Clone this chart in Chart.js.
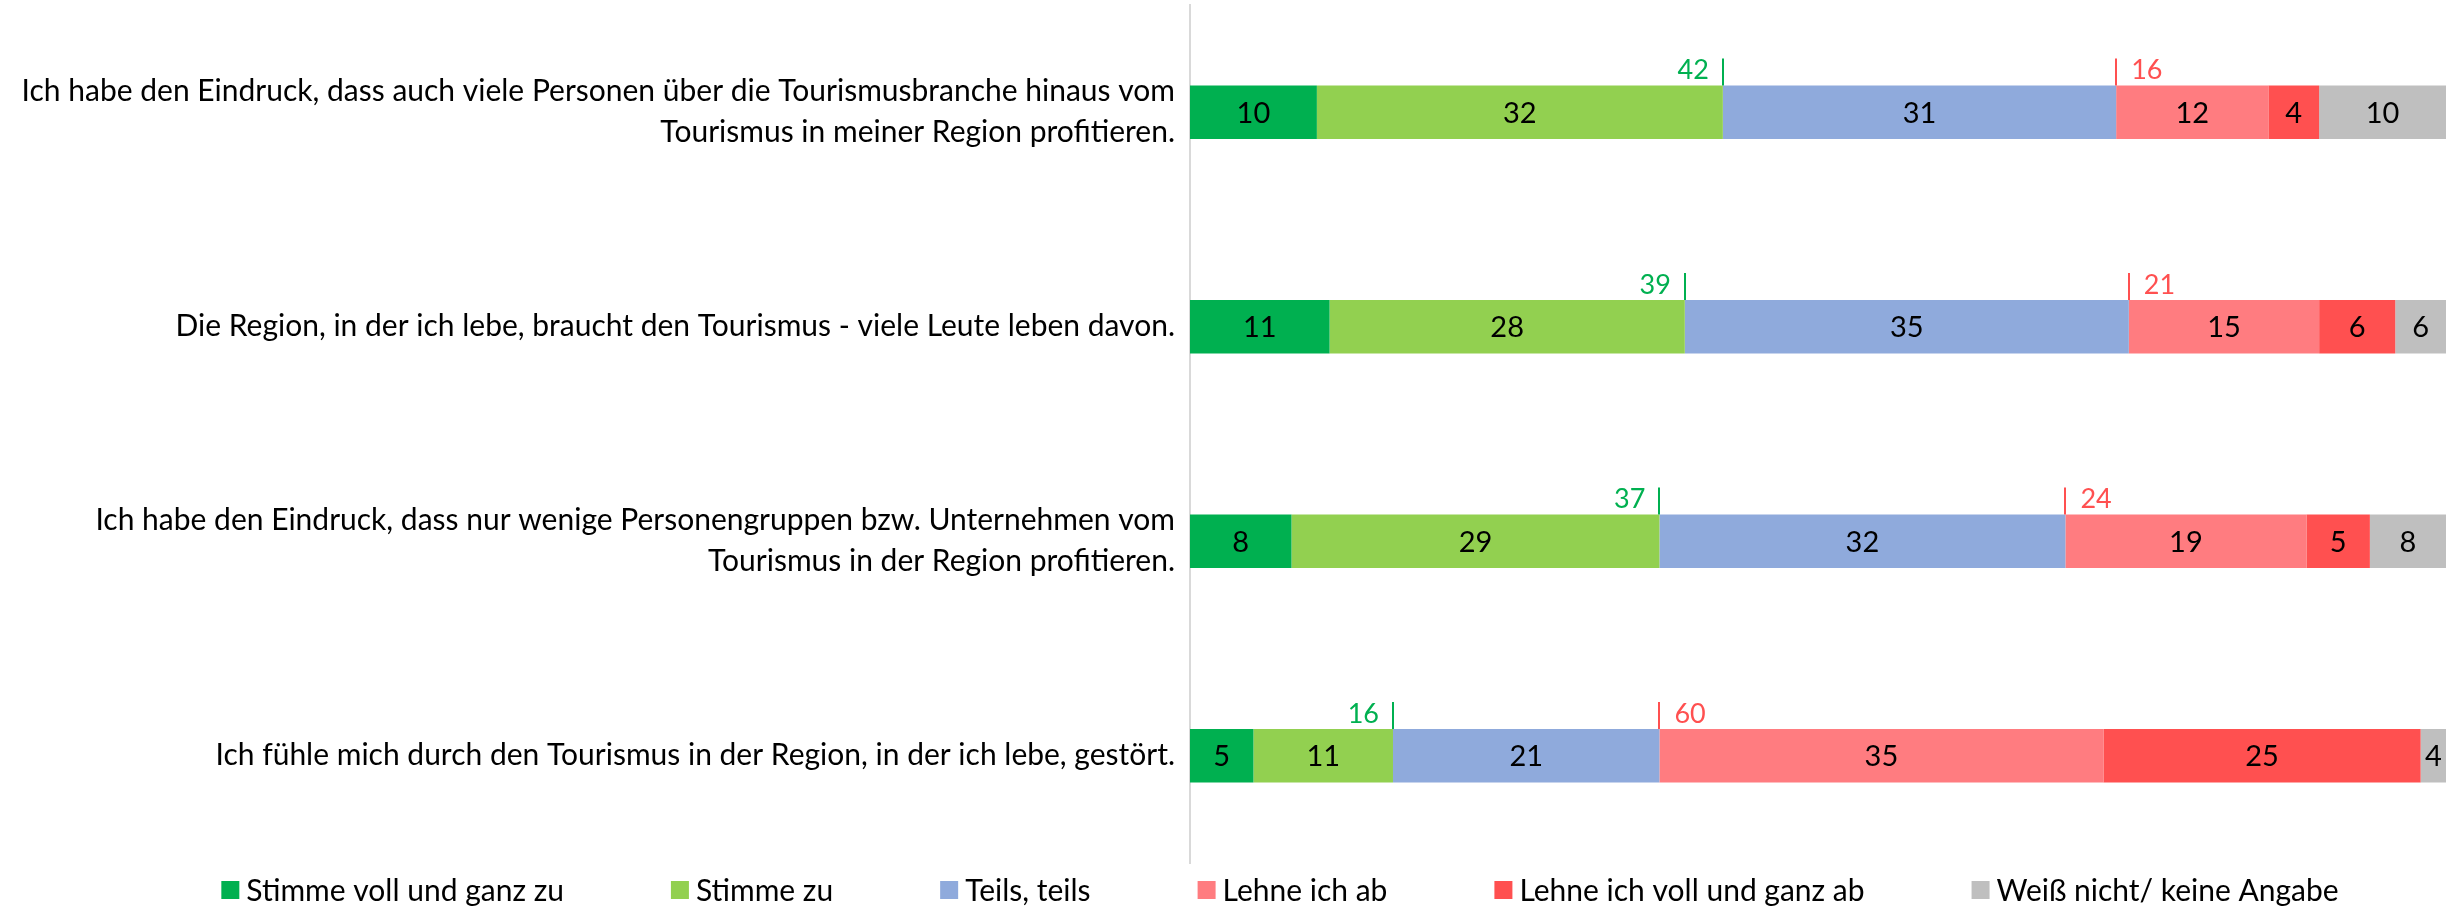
<!DOCTYPE html>
<html><head><meta charset="utf-8">
<script src="https://cdn.jsdelivr.net/npm/chart.js@4.4.1/dist/chart.umd.min.js"></script>
<style>html,body{margin:0;padding:0;background:#fff;overflow:hidden}#wrap{width:2446px;height:909px;position:relative}</style>
</head><body><div id="wrap"><canvas id="c" width="2446" height="909"></canvas></div>
<script>
const categories = [
  ["Ich habe den Eindruck, dass auch viele Personen über die Tourismusbranche hinaus vom", "Tourismus in meiner Region profitieren."],
  "Die Region, in der ich lebe, braucht den Tourismus - viele Leute leben davon.",
  ["Ich habe den Eindruck, dass nur wenige Personengruppen bzw. Unternehmen vom", "Tourismus in der Region profitieren."],
  "Ich fühle mich durch den Tourismus in der Region, in der ich lebe, gestört."
];
const seriesNames = ["Stimme voll und ganz zu", "Stimme zu", "Teils, teils", "Lehne ich ab", "Lehne ich voll und ganz ab", "Weiß nicht/ keine Angabe"];
const stimmeVoll = [10, 11, 8, 5];
const stimmeZu = [32, 28, 29, 11];
const teilsTeils = [31, 35, 32, 21];
const lehneAb = [12, 15, 19, 35];
const lehneVoll = [4, 6, 5, 25];
const weissNicht = [10, 6, 8, 4];
const agreeTotals = [42, 39, 37, 16];
const rejectTotals = [16, 21, 24, 60];
const seriesColors = ["#00B050", "#92D050", "#8FAADC", "#FF7C80", "#FF5050", "#BFBFBF"];

const FONT = "Lato, 'Open Sans', sans-serif";
const allSeries = [stimmeVoll, stimmeZu, teilsTeils, lehneAb, lehneVoll, weissNicht];

const segmentLabels = {
  id: 'segmentLabels',
  afterDatasetsDraw(chart) {
    const ctx = chart.ctx, area = chart.chartArea;
    ctx.save();
    ctx.font = "29px " + FONT;
    ctx.fillStyle = "#000";
    ctx.textAlign = "center";
    ctx.textBaseline = "middle";
    chart.data.datasets.forEach((ds, di) => {
      const meta = chart.getDatasetMeta(di);
      meta.data.forEach((el, i) => {
        const a = Math.max(Math.min(el.base, el.x), area.left);
        const b = Math.min(Math.max(el.base, el.x), area.right);
        if (b <= a) return;
        ctx.fillText(String(ds.data[i]), (a + b) / 2, el.y + 1);
      });
    });
    ctx.restore();
  }
};

const sumMarkers = {
  id: 'sumMarkers',
  afterDatasetsDraw(chart) {
    const ctx = chart.ctx;
    const agreeMeta = chart.getDatasetMeta(1);
    const neutralMeta = chart.getDatasetMeta(2);
    ctx.save();
    ctx.font = "27px " + FONT;
    ctx.textBaseline = "alphabetic";
    ctx.lineWidth = 2;
    categories.forEach((c, i) => {
      const ea = agreeMeta.data[i];
      const top = ea.y - ea.height / 2;
      ctx.strokeStyle = "#00B050"; ctx.fillStyle = "#00B050";
      ctx.beginPath(); ctx.moveTo(Math.round(ea.x), top - 27); ctx.lineTo(Math.round(ea.x), top); ctx.stroke();
      ctx.textAlign = "right";
      ctx.fillText(String(agreeTotals[i]), ea.x - 14, top - 6);
      const en = neutralMeta.data[i];
      ctx.strokeStyle = "#FF5050"; ctx.fillStyle = "#FF5050";
      ctx.beginPath(); ctx.moveTo(Math.round(en.x), top - 27); ctx.lineTo(Math.round(en.x), top); ctx.stroke();
      ctx.textAlign = "left";
      ctx.fillText(String(rejectTotals[i]), en.x + 15, top - 6);
    });
    ctx.restore();
  }
};

const bottomLegend = {
  id: 'bottomLegend',
  afterDraw(chart) {
    const ctx = chart.ctx;
    const box = 18, gapText = 7, gapItem = 107, cy = 890, centerX = 1280;
    ctx.save();
    ctx.font = "30px " + FONT;
    ctx.textBaseline = "middle";
    ctx.textAlign = "left";
    const items = chart.data.datasets.map(ds => ({text: ds.label, color: ds.backgroundColor, w: box + gapText + ctx.measureText(ds.label).width}));
    const total = items.reduce((s, it) => s + it.w, 0) + gapItem * (items.length - 1);
    let x = centerX - total / 2;
    items.forEach(it => {
      ctx.fillStyle = it.color;
      ctx.fillRect(x, cy - box / 2, box, box);
      ctx.fillStyle = "#000";
      ctx.fillText(it.text, x + box + gapText, cy + 1);
      x += it.w + gapItem;
    });
    ctx.restore();
  }
};

new Chart(document.getElementById('c'), {
  type: 'bar',
  data: {
    labels: categories,
    datasets: seriesNames.map((name, k) => ({
      label: name,
      data: allSeries[k],
      backgroundColor: seriesColors[k],
      borderWidth: 0,
      barPercentage: 0.25,
      categoryPercentage: 1
    }))
  },
  options: {
    indexAxis: 'y',
    responsive: false,
    animation: false,
    layout: { padding: { top: 5, bottom: 46, right: 0, left: 0 } },
    plugins: { legend: { display: false }, tooltip: { enabled: false } },
    scales: {
      x: { stacked: true, min: 0, max: 99, display: false },
      y: {
        stacked: true,
        grid: { display: false },
        border: { display: true, color: "#D9D9D9", width: 2 },
        ticks: { color: "#000", padding: 7, font: { family: FONT, size: 30, lineHeight: 1.37 } },
        afterFit(scale) { scale.width = 1190; scale.paddingTop = 0; scale.paddingBottom = 0; }
      }
    }
  },
  plugins: [segmentLabels, sumMarkers, bottomLegend]
});
</script>
</body></html>
